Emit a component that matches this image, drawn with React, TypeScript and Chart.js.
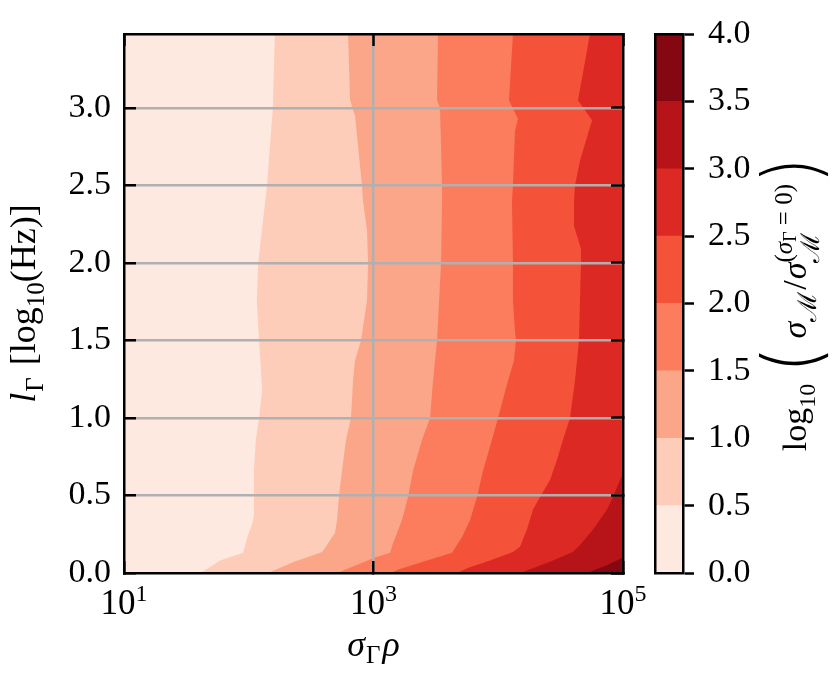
import React, { useEffect, useRef } from 'react';
import { Chart, registerables } from 'chart.js';

Chart.register(...registerables);

// ---------- data ----------
const X_MIN = 10;
const X_MAX = 100000;
const Y_MIN = 0;
const Y_MAX = 3.477;
const X_TICKS = [10, 1000, 100000];
const X_TICK_BASE = '10';
const X_TICK_EXP = ['1', '3', '5'];
const Y_TICKS = [0, 0.5, 1.0, 1.5, 2.0, 2.5, 3.0];
const LEVELS = [0, 0.5, 1.0, 1.5, 2.0, 2.5, 3.0, 3.5, 4.0];
const LEVEL_COLORS = ['#fee9e0', '#fdcdb9', '#fca689', '#fb7d5d', '#f5523a', '#dc2924', '#b71419', '#840711'];

// contour boundaries: x (sigma_Gamma * rho) where the level is crossed, at each l_Gamma (y)
const B0_Y = [0, 3.477];
const B0_X = [10, 10];
const B1_Y = [0, 0.08, 0.13, 0.25, 0.31, 0.37, 0.5, 0.66, 0.86, 1.0, 1.18, 1.5, 1.76, 2.0, 2.27, 2.5, 3.0, 3.477];
const B1_X = [41, 59, 90, 99, 106, 110, 110, 110, 114, 121, 128, 121, 116, 119, 130, 140, 156, 162];
const B2_Y = [0, 0.07, 0.135, 0.18, 0.26, 0.34, 0.5, 0.66, 0.86, 1.0, 1.24, 1.37, 1.5, 1.76, 2.0, 2.21, 2.4, 2.5, 2.95, 3.05, 3.477];
const B2_X = [143, 226, 387, 424, 491, 510, 529, 559, 602, 660, 685, 711, 794, 887, 904, 887, 824, 809, 711, 649, 625];
const B3_Y = [0, 0.1, 0.13, 0.19, 0.34, 0.49, 0.66, 0.86, 1.0, 1.24, 1.5, 2.0, 2.4, 2.5, 3.0, 3.05, 3.477];
const B3_X = [510, 1028, 1356, 1432, 1690, 1891, 2073, 2449, 2839, 3000, 3230, 3479, 3542, 3542, 3415, 3230, 3289];
const B4_Y = [0, 0.02, 0.08, 0.13, 0.23, 0.34, 0.49, 0.66, 0.86, 1.0, 1.24, 1.37, 1.5, 1.56, 1.76, 2.0, 2.4, 2.5, 2.85, 2.93, 3.05, 3.477];
const B4_X = [1406, 1542, 2685, 4256, 5117, 5937, 6761, 7551, 8913, 9954, 11970, 13370, 13870, 13610, 13120, 13120, 12880, 13120, 13610, 14390, 12190, 13120];
const B5_Y = [0, 0.03, 0.08, 0.135, 0.17, 0.28, 0.41, 0.49, 0.6, 0.73, 0.86, 1.0, 1.24, 1.5, 1.76, 2.0, 2.09, 2.24, 2.4, 2.5, 2.66, 2.92, 3.05, 3.477];
const B5_X = [4667, 5623, 8590, 13120, 14930, 16990, 18990, 21630, 26000, 29580, 33040, 37590, 41210, 44380, 45190, 46030, 46030, 40460, 40460, 41210, 45190, 56490, 43550, 54330];
const B6_Y = [0, 0.03, 0.08, 0.135, 0.18, 0.28, 0.41, 0.49, 0.6, 0.644];
const B6_X = [14930, 18990, 27480, 39720, 45190, 57540, 74470, 83200, 94620, 100000];
const B7_Y = [0, 0.05, 0.1];
const B7_X = [51400, 74470, 100000];

// drawn bottom (index 0 = lowest level) to top
const BOUNDARY_Y = [B0_Y, B1_Y, B2_Y, B3_Y, B4_Y, B5_Y, B6_Y, B7_Y];
const BOUNDARY_X = [B0_X, B1_X, B2_X, B3_X, B4_X, B5_X, B6_X, B7_X];

// ---------- text ----------
type Part = {
  t: string; s: number; dy?: number; it?: boolean; back?: boolean; clear?: boolean;
  gap?: number; pre?: number; fam?: string; w?: number;
};
const X_TITLE: Part[] = [
  { t: 'σ', s: 36, it: true, gap: 1 },
  { t: 'Γ', s: 25, dy: 7, gap: 2 },
  { t: 'ρ', s: 36, it: true },
];
const Y_TITLE: Part[] = [
  { t: 'l', s: 36, it: true, gap: 1 },
  { t: 'Γ', s: 25, dy: 8, gap: 3 },
  { t: ' [log', s: 36 },
  { t: '10', s: 25, dy: 9 },
  { t: '(Hz)]', s: 36 },
];
const PAREN_FAMILY = "Inter, 'DejaVu Sans', sans-serif";
const CB_TITLE: Part[] = [
  { t: 'log', s: 34 },
  { t: '10', s: 24, dy: 9 },
  { t: '(', s: 76, dy: 12, pre: 10, gap: 10, fam: PAREN_FAMILY, w: 200 },
  { t: 'σ', s: 34, it: true },
  { t: 'ℳ', s: 26, dy: 10, gap: 2 },
  { t: '/', s: 34, gap: 1 },
  { t: 'σ', s: 34, it: true },
  { t: 'ℳ', s: 26, dy: 13 },
  { t: '(', s: 25, dy: -14, back: true },
  { t: 'σ', s: 25, dy: -14, it: true },
  { t: 'Γ', s: 18, dy: -10 },
  { t: ' = 0)', s: 25, dy: -14 },
  { t: ')', s: 76, dy: 12, clear: true, pre: 3, fam: PAREN_FAMILY, w: 200 },
];

const FAMILY = "'Liberation Serif', 'DejaVu Serif', serif";
const TICK_SIZE = 34;
const GRID = '#b0b0b0';
const CLEAR = 'rgba(0,0,0,0)';
const LW = 2.5;

function partFont(p: Part) {
  return `${p.it ? 'italic ' : ''}${p.w ? p.w + ' ' : ''}${p.s}px ${p.fam || FAMILY}`;
}

function drawRich(ctx: CanvasRenderingContext2D, parts: Part[], x: number, y: number, rot: number) {
  ctx.save();
  ctx.translate(x, y);
  ctx.rotate(rot);
  ctx.textBaseline = 'alphabetic';
  ctx.textAlign = 'left';
  ctx.fillStyle = '#000';
  const starts: number[] = [];
  let cursor = 0;
  let maxEnd = 0;
  let prevStart = 0;
  parts.forEach((p) => {
    ctx.font = partFont(p);
    const w = ctx.measureText(p.t).width;
    const start = (p.back ? prevStart : p.clear ? maxEnd : cursor) + (p.pre || 0);
    starts.push(start);
    cursor = start + w + (p.gap || 0);
    maxEnd = Math.max(maxEnd, cursor);
    prevStart = start;
  });
  const off = -maxEnd / 2;
  parts.forEach((p, i) => {
    ctx.font = partFont(p);
    ctx.fillText(p.t, off + starts[i], p.dy || 0);
  });
  ctx.restore();
}

const mainText = {
  id: 'mainText',
  afterDraw(chart: any) {
    const ctx = chart.ctx as CanvasRenderingContext2D;
    const xs = chart.scales.x;
    const area = chart.chartArea;
    X_TICKS.forEach((v, i) => {
      drawRich(ctx, [{ t: X_TICK_BASE, s: 35 }, { t: X_TICK_EXP[i], s: 24, dy: -13 }], xs.getPixelForValue(v), 614, 0);
    });
    drawRich(ctx, X_TITLE, (area.left + area.right) / 2, 656, 0);
    drawRich(ctx, Y_TITLE, 35, (area.top + area.bottom) / 2, -Math.PI / 2);
  },
};

const cbText = {
  id: 'cbText',
  afterDraw(chart: any) {
    const ctx = chart.ctx as CanvasRenderingContext2D;
    const area = chart.chartArea;
    drawRich(ctx, CB_TITLE, 166, (area.top + area.bottom) / 2, -Math.PI / 2);
  },
};

const border = { display: true, color: '#000', width: LW, z: 2 };
const noPad = (s: any) => { s.paddingTop = 0; s.paddingBottom = 0; s.paddingLeft = 0; s.paddingRight = 0; };

function mainConfig(): any {
  const datasets = BOUNDARY_Y.map((ys, k) => ({
    type: 'line',
    data: ys.map((yv, i) => ({ x: BOUNDARY_X[k][i], y: yv })),
    backgroundColor: LEVEL_COLORS[k],
    borderColor: LEVEL_COLORS[k],
    borderWidth: 0,
    borderDash: [8, 0],
    pointRadius: 0,
    pointHoverRadius: 0,
    pointHitRadius: 0,
    tension: 0,
    fill: { value: X_MAX },
  })).reverse();
  const tickGrid = { tickLength: -12, tickColor: '#000', tickWidth: LW, z: 1 };
  return {
    type: 'line',
    data: { datasets },
    options: {
      responsive: false,
      animation: false,
      devicePixelRatio: 1,
      indexAxis: 'y',
      events: [],
      layout: { padding: { left: 0, right: 209, top: 34, bottom: 0 } },
      plugins: { legend: { display: false }, tooltip: { enabled: false }, filler: { propagate: false } },
      scales: {
        x: {
          type: 'logarithmic',
          position: 'bottom',
          min: X_MIN,
          max: X_MAX,
          afterBuildTicks: (s: any) => { s.ticks = X_TICKS.map((v) => ({ value: v })); },
          afterFit: (s: any) => { s.height = 103; noPad(s); },
          ticks: { display: false },
          grid: {
            ...tickGrid,
            color: (c: any) => (c.index > 0 && c.index < X_TICKS.length - 1 ? GRID : CLEAR),
            lineWidth: LW,
          },
          border,
        },
        y: {
          type: 'linear',
          position: 'left',
          min: Y_MIN,
          max: Y_MAX,
          afterBuildTicks: (s: any) => { s.ticks = Y_TICKS.map((v) => ({ value: v })); },
          afterFit: (s: any) => { s.width = 124; noPad(s); },
          ticks: {
            callback: (v: any) => Number(v).toFixed(1),
            font: { family: FAMILY, size: TICK_SIZE },
            color: '#000',
            padding: 25,
          },
          grid: {
            ...tickGrid,
            color: (c: any) => (c.index > 0 ? GRID : CLEAR),
            lineWidth: LW,
          },
          border,
        },
        x2: {
          type: 'logarithmic',
          position: 'top',
          min: X_MIN,
          max: X_MAX,
          afterBuildTicks: (s: any) => { s.ticks = X_TICKS.map((v) => ({ value: v })); },
          afterFit: (s: any) => { s.height = 0; noPad(s); },
          ticks: { display: false },
          grid: { ...tickGrid, drawOnChartArea: false },
          border,
        },
        y2: {
          type: 'linear',
          position: 'right',
          min: Y_MIN,
          max: Y_MAX,
          afterBuildTicks: (s: any) => { s.ticks = Y_TICKS.map((v) => ({ value: v })); },
          afterFit: (s: any) => { s.width = 0; noPad(s); },
          ticks: { display: false },
          grid: { ...tickGrid, drawOnChartArea: false },
          border,
        },
      },
    },
    plugins: [mainText],
  };
}

function cbConfig(): any {
  const datasets = LEVEL_COLORS.map((c, i) => ({
    data: [LEVELS[i + 1] - LEVELS[i]],
    backgroundColor: c,
    borderWidth: 0,
    barPercentage: 1,
    categoryPercentage: 1,
    xAxisID: 'x',
    yAxisID: 'y',
  }));
  const hiddenX = (pos: string) => ({
    type: 'category',
    position: pos,
    stacked: true,
    afterFit: (s: any) => { s.height = 0; noPad(s); },
    ticks: { display: false },
    grid: { display: false },
    border,
  });
  return {
    type: 'bar',
    data: { labels: [''], datasets },
    options: {
      responsive: false,
      animation: false,
      devicePixelRatio: 1,
      events: [],
      layout: { padding: { left: 15, right: 0, top: 34, bottom: 103 } },
      plugins: { legend: { display: false }, tooltip: { enabled: false } },
      scales: {
        x: hiddenX('bottom'),
        x2: hiddenX('top'),
        y: {
          type: 'linear',
          position: 'right',
          stacked: true,
          min: LEVELS[0],
          max: LEVELS[LEVELS.length - 1],
          afterBuildTicks: (s: any) => { s.ticks = LEVELS.map((v) => ({ value: v })); },
          afterFit: (s: any) => { s.width = 149; noPad(s); },
          ticks: {
            callback: (v: any) => Number(v).toFixed(1),
            font: { family: FAMILY, size: TICK_SIZE },
            color: '#000',
            padding: 14,
          },
          grid: { drawOnChartArea: false, tickLength: 11, tickColor: '#000', tickWidth: LW, z: 1 },
          border,
        },
        yl: {
          type: 'linear',
          axis: 'y',
          position: 'left',
          min: LEVELS[0],
          max: LEVELS[LEVELS.length - 1],
          afterFit: (s: any) => { s.width = 0; noPad(s); },
          ticks: { display: false },
          grid: { display: false },
          border,
        },
      },
    },
    plugins: [cbText],
  };
}

export default function App() {
  const mainRef = useRef<HTMLCanvasElement>(null);
  const cbRef = useRef<HTMLCanvasElement>(null);
  useEffect(() => {
    const main = new Chart(mainRef.current as HTMLCanvasElement, mainConfig());
    const cb = new Chart(cbRef.current as HTMLCanvasElement, cbConfig());
    return () => {
      main.destroy();
      cb.destroy();
    };
  }, []);
  return (
    <div style={{ position: 'absolute', left: 0, top: 0, width: 832, height: 676, background: '#fff' }}>
      <canvas ref={mainRef} width={832} height={676} style={{ position: 'absolute', left: 0, top: 0, width: 832, height: 676 }} />
      <canvas ref={cbRef} width={192} height={676} style={{ position: 'absolute', left: 640, top: 0, width: 192, height: 676 }} />
    </div>
  );
}
